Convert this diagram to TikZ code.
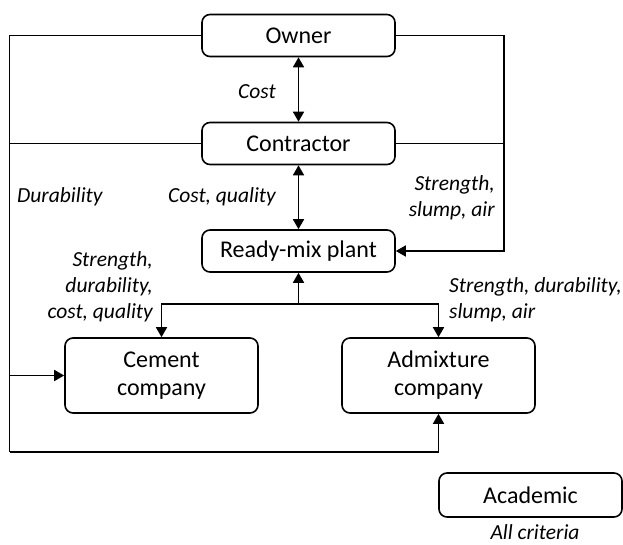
\documentclass[tikz,border=0pt]{standalone}
\usepackage{fontspec}
\setmainfont{Carlito}
\usetikzlibrary{arrows.meta}
\begin{document}
\begin{tikzpicture}[x=1pt,y=-1pt,
  box/.style={draw,line width=1.6pt,rounded corners=8pt,inner sep=0pt,
    minimum width=193pt,minimum height=42pt,align=center,
    font=\fontsize{24}{28}\selectfont},
  lbl/.style={inner sep=0pt,font=\fontsize{21.5}{26}\selectfont\itshape},
  conn/.style={line width=1.6pt},
  thinconn/.style={line width=1pt},
  arr/.style={-{Triangle[length=10pt,width=11pt]}},
  darr/.style={{Triangle[length=10pt,width=11pt]}-{Triangle[length=10pt,width=11pt]}}]
\useasboundingbox (0,0) rectangle (623,545);
\node[box] (owner) at (298.5,35.5) {Owner};
\node[box] (contr) at (298.5,143.5) {Contractor};
\node[box] (ready) at (298.5,251) {Ready-mix plant};
\node[box,minimum height=75pt] (cement) at (161.5,375.5) {Cement\\company};
\node[box,minimum height=75pt] (admix) at (438.5,375.5) {Admixture\\company};
\node[box,minimum width=183pt,minimum height=44pt] (acad) at (530.5,495) {Academic};

\coordinate (tl) at (9.5,35.5);
\coordinate (bl) at (9.5,452);
\coordinate (tr) at (504,251);
\coordinate (br) at (298.5,304);

\draw[conn,darr] (owner) -- (contr);
\draw[conn,darr] (contr) -- (ready);
\draw[conn] (owner.west) -- (tl) -- (bl);
\draw[conn,arr] (bl) -| (admix.south);
\draw[conn,arr] (tl |- cement.west) -- (cement.west);
\draw[thinconn] (contr.west) -- (tl |- contr.west);
\draw[thinconn] (contr.east) -- (tr |- contr.east);
\draw[conn,arr] (owner.east) -| (tr) -- (ready.east);
\draw[conn,arr] (br) -- (ready.south);
\draw[conn,arr] (br) -| (cement.north);
\draw[conn,arr] (br) -| (admix.north);

\node[lbl,anchor=east] (lcost) at (276,92) {Cost};
\node[lbl,anchor=west] (ldur) at (17,197) {Durability};
\node[lbl,anchor=east] (lcq) at (276,197) {Cost, quality};
\node[lbl,anchor=east,align=right] (lssa) at (495,197.5) {Strength,\\slump, air};
\node[lbl,anchor=east,align=right] (lsdcq) at (153,287) {Strength,\\durability,\\cost, quality};
\node[lbl,anchor=west,align=left] (lsdsa) at (449,300) {Strength, durability,\\slump, air};
\node[lbl] (lall) at (535,532) {All criteria};
\end{tikzpicture}
\end{document}
